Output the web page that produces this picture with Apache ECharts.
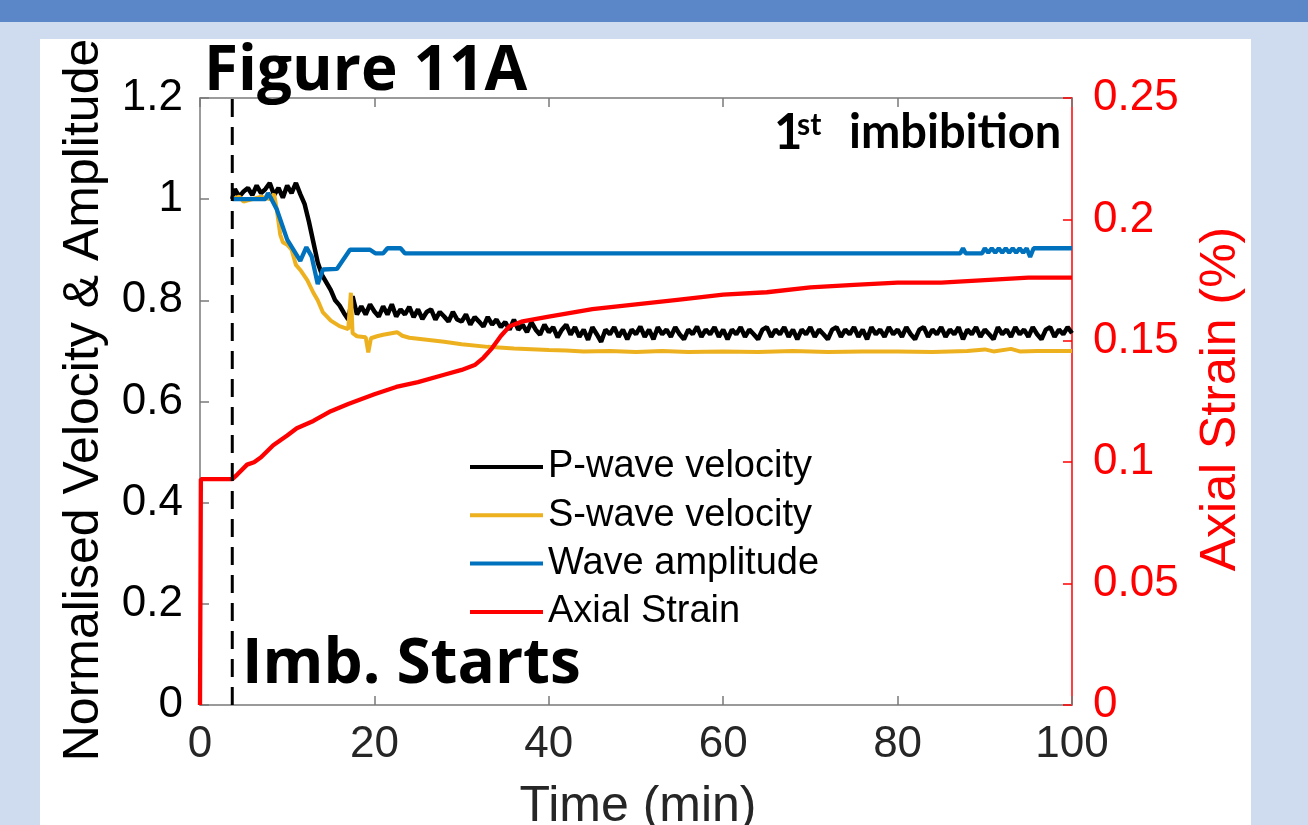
<!DOCTYPE html>
<html>
<head>
<meta charset="utf-8">
<script src="https://cdn.jsdelivr.net/npm/echarts@6/dist/echarts.min.js"></script>
<style>
html,body{margin:0;padding:0;background:#CFDBEE;}
#chart{width:1308px;height:825px;}
</style>
</head>
<body>
<div id="chart"></div>
<script>
// ---- data ----
const xTicks = [0, 20, 40, 60, 80, 100];
const leftTicks = [0, 0.2, 0.4, 0.6, 0.8, 1, 1.2];
const rightTicks = [0, 0.05, 0.1, 0.15, 0.2, 0.25];
const seriesNames = ['P-wave velocity', 'S-wave velocity', 'Wave amplitude', 'Axial Strain'];
const imbStart = 3.7; // min

// P-wave: start point then samples every 0.5 min from 4.0 to 100.0
const pStart = [3.7, 1.0];
const pFirstTime = 4.0, pStep = 0.5;
const pValues = [
  1.02, 1.005, 1.015, 1.022, 1.008, 1.027, 1.012, 1.02, 1.032, 1.008,
  1.022, 1.003, 1.027, 1.012, 1.032, 1.01, 0.99, 0.955, 0.915, 0.875,
  0.85, 0.835, 0.82, 0.80, 0.79, 0.775, 0.762, 0.808, 0.772, 0.788,
  0.772, 0.792, 0.778, 0.768, 0.788, 0.772, 0.792, 0.768, 0.782, 0.772,
  0.787, 0.767, 0.782, 0.763, 0.777, 0.782, 0.762, 0.777, 0.768, 0.758,
  0.777, 0.762, 0.758, 0.772, 0.752, 0.767, 0.758, 0.748, 0.767, 0.752,
  0.762, 0.747, 0.757, 0.742, 0.762, 0.742, 0.752, 0.737, 0.757, 0.742,
  0.732, 0.752, 0.737, 0.747, 0.727, 0.742, 0.752, 0.732, 0.747, 0.728,
  0.742, 0.722, 0.747, 0.733, 0.718, 0.742, 0.733, 0.747, 0.728, 0.742,
  0.723, 0.742, 0.733, 0.748, 0.728, 0.742, 0.723, 0.747, 0.733, 0.742,
  0.728, 0.747, 0.733, 0.723, 0.742, 0.733, 0.748, 0.728, 0.742, 0.733,
  0.747, 0.728, 0.742, 0.723, 0.742, 0.733, 0.747, 0.728, 0.742, 0.733,
  0.723, 0.742, 0.747, 0.728, 0.742, 0.733, 0.747, 0.728, 0.742, 0.723,
  0.742, 0.733, 0.747, 0.728, 0.742, 0.733, 0.723, 0.742, 0.747, 0.728,
  0.742, 0.733, 0.747, 0.728, 0.742, 0.723, 0.747, 0.733, 0.742, 0.728,
  0.747, 0.733, 0.742, 0.728, 0.747, 0.733, 0.723, 0.742, 0.747, 0.728,
  0.742, 0.733, 0.747, 0.728, 0.742, 0.733, 0.747, 0.723, 0.742, 0.733,
  0.747, 0.728, 0.742, 0.733, 0.723, 0.747, 0.733, 0.742, 0.728, 0.747,
  0.733, 0.742, 0.728, 0.747, 0.733, 0.723, 0.742, 0.747, 0.728, 0.742,
  0.733, 0.747, 0.735
];

const sTime = [3.7, 4.5, 5, 6, 7, 8, 8.5, 8.8, 9.2, 9.5, 10, 10.5, 11, 11.5, 12.3, 13, 13.5, 14.1, 15, 16, 17, 17.2, 17.3, 17.5, 18, 19, 19.3, 19.6, 20.3, 21, 22.6, 23.2, 24, 26, 28, 30, 33, 36, 40, 42, 44, 47, 50, 53, 56, 60, 64, 68, 72, 76, 80, 84, 88, 90, 91, 93, 94, 96, 100];
const sVel  = [1.0, 1.005, 0.995, 1.0, 1.005, 1.0, 1.01, 0.98, 0.93, 0.915, 0.91, 0.9, 0.87, 0.86, 0.84, 0.815, 0.80, 0.776, 0.76, 0.749, 0.743, 0.745, 0.815, 0.735, 0.729, 0.727, 0.697, 0.725, 0.729, 0.732, 0.737, 0.73, 0.726, 0.722, 0.718, 0.713, 0.708, 0.705, 0.702, 0.701, 0.699, 0.700, 0.698, 0.700, 0.698, 0.699, 0.698, 0.700, 0.698, 0.699, 0.699, 0.698, 0.700, 0.703, 0.699, 0.704, 0.699, 0.700, 0.700];

const aTime = [3.7, 7.5, 7.8, 8.2, 8.8, 10, 11.5, 12.2, 12.8, 13.5, 14.1, 15.7, 17.2, 19.5, 20.1, 21, 21.5, 23, 23.5, 87.2, 87.5, 87.8, 89.7, 90.0, 90.4, 90.8, 91.2, 91.6, 92.0, 92.4, 92.8, 93.2, 93.6, 94.0, 94.4, 94.8, 95.2, 95.6, 100];
const amp   = [1.0, 1.0, 1.012, 1.0, 0.98, 0.92, 0.878, 0.905, 0.887, 0.832, 0.861, 0.862, 0.9, 0.9, 0.893, 0.893, 0.903, 0.903, 0.893, 0.893, 0.903, 0.893, 0.893, 0.903, 0.894, 0.903, 0.894, 0.903, 0.894, 0.903, 0.894, 0.903, 0.894, 0.903, 0.894, 0.903, 0.886, 0.903, 0.903];

const strainTime = [0, 0.1, 3.7, 4.3, 5.4, 6.2, 7, 8.4, 10, 11.1, 13, 15, 17, 20, 22.5, 25, 28, 30, 31.5, 32.5, 33.5, 34.5, 35.5, 37, 40, 45, 50, 55, 60, 65, 70, 75, 80, 85, 90, 95, 100];
const strain     = [0, 0.093, 0.093, 0.095, 0.099, 0.100, 0.102, 0.107, 0.111, 0.114, 0.117, 0.121, 0.124, 0.128, 0.131, 0.133, 0.136, 0.138, 0.140, 0.143, 0.147, 0.152, 0.156, 0.158, 0.160, 0.163, 0.165, 0.167, 0.169, 0.170, 0.172, 0.173, 0.174, 0.174, 0.175, 0.176, 0.176];

// ---- build series data ----
const pData = [pStart].concat(pValues.map((v, i) => [pFirstTime + i * pStep, v]));
const sData = sTime.map((t, i) => [t, sVel[i]]);
const aData = aTime.map((t, i) => [t, amp[i]]);
const eData = strainTime.map((t, i) => [t, strain[i]]);
const dashData = [[imbStart, leftTicks[0]], [imbStart, leftTicks[leftTicks.length - 1]]];

const AX = '#7a7a7a';
const FONT = 'Liberation Sans, Arial, sans-serif';
const BOLD = '"Open Sans", sans-serif';
const BOLD2 = 'Lato, sans-serif';

function axisCommon(color) {
  return {
    axisLine: {show: true, onZero: false, lineStyle: {color: color, width: 1.5}},
    axisTick: {show: true, inside: true, length: 9, lineStyle: {color: color, width: 1.5}},
    splitLine: {show: false}
  };
}

const chart = echarts.init(document.getElementById('chart'), null, {renderer: 'canvas'});
chart.setOption({
  animation: false,
  backgroundColor: 'transparent',
  grid: {left: 200, right: 236, top: 98, bottom: 120, containLabel: false},
  legend: {
    orient: 'vertical', left: 470, top: 447, padding: 0,
    itemWidth: 73, itemHeight: 4, icon: 'rect', itemGap: 8.3,
    textStyle: {fontSize: 38, lineHeight: 40, fontFamily: FONT, color: '#000'},
    data: seriesNames
  },
  xAxis: [Object.assign({
    type: 'value', min: xTicks[0], max: xTicks[xTicks.length - 1], interval: 20,
    position: 'bottom',
    axisLabel: {fontSize: 44, margin: 18, color: '#262626', fontFamily: FONT}
  }, axisCommon(AX)), Object.assign({
    type: 'value', min: xTicks[0], max: xTicks[xTicks.length - 1], interval: 20,
    position: 'top',
    axisLabel: {show: false}
  }, axisCommon(AX))],
  yAxis: [Object.assign({
    type: 'value', min: leftTicks[0], max: leftTicks[leftTicks.length - 1], interval: 0.2,
    position: 'left',
    axisLabel: {fontSize: 44, margin: 17, color: '#000', fontFamily: FONT}
  }, axisCommon(AX)), Object.assign({
    type: 'value', min: rightTicks[0], max: rightTicks[rightTicks.length - 1], interval: 0.05,
    position: 'right',
    axisLabel: {fontSize: 44, margin: 21, color: '#ff0000', fontFamily: FONT}
  }, axisCommon('#ff0000'))],
  graphic: [
    {type: 'rect', z: -10, shape: {x: 0, y: 0, width: 1308, height: 22}, style: {fill: '#5B87C9'}},
    {type: 'rect', z: -10, shape: {x: 40, y: 39, width: 1211, height: 800}, style: {fill: '#ffffff'}},
    {type: 'text', z: 100, x: 84, y: 400, rotation: Math.PI / 2,
      style: {text: 'Normalised Velocity & Amplitude', fill: '#000', font: '50px ' + FONT, textAlign: 'center', textVerticalAlign: 'middle'}},
    {type: 'text', z: 100, x: 1221, y: 399, rotation: Math.PI / 2,
      style: {text: 'Axial Strain (%)', fill: '#ff0000', font: '50px ' + FONT, textAlign: 'center', textVerticalAlign: 'middle'}},
    {type: 'text', z: 100, x: 638, y: 807,
      style: {text: 'Time (min)', fill: '#262626', font: '50px ' + FONT, textAlign: 'center', textVerticalAlign: 'middle'}},
    {type: 'text', z: 100, x: 204, y: 72,
      style: {text: 'Figure 11A', fill: '#000', font: 'bold 62px ' + BOLD, textAlign: 'left', textVerticalAlign: 'middle'}},
    {type: 'text', z: 100, x: 242, y: 665,
      style: {text: 'Imb. Starts', fill: '#000', font: 'bold 62px ' + BOLD, textAlign: 'left', textVerticalAlign: 'middle'}},
    {type: 'text', z: 100, x: 774, y: 133,
      style: {text: '1', fill: '#000', font: 'bold 49px ' + BOLD2, textAlign: 'left', textVerticalAlign: 'middle'}},
    {type: 'text', z: 100, x: 797, y: 125,
      style: {text: 'st', fill: '#000', font: 'bold 30px ' + BOLD2, textAlign: 'left', textVerticalAlign: 'middle'}},
    {type: 'text', z: 100, x: 849, y: 133,
      style: {text: 'imbibition', fill: '#000', font: 'bold 47px ' + BOLD2, textAlign: 'left', textVerticalAlign: 'middle'}}
  ],
  series: [
    {name: seriesNames[0], type: 'line', xAxisIndex: 0, yAxisIndex: 0, data: pData, showSymbol: false,
      lineStyle: {color: '#000000', width: 4.5}, itemStyle: {color: '#000000'}, z: 2},
    {name: seriesNames[1], type: 'line', xAxisIndex: 0, yAxisIndex: 0, data: sData, showSymbol: false,
      lineStyle: {color: '#EDB120', width: 4}, itemStyle: {color: '#EDB120'}, z: 3},
    {name: seriesNames[2], type: 'line', xAxisIndex: 0, yAxisIndex: 0, data: aData, showSymbol: false,
      lineStyle: {color: '#0072BD', width: 4.3}, itemStyle: {color: '#0072BD'}, z: 4},
    {name: seriesNames[3], type: 'line', xAxisIndex: 0, yAxisIndex: 1, data: eData, showSymbol: false,
      lineStyle: {color: '#ff0000', width: 4.3}, itemStyle: {color: '#ff0000'}, z: 5},
    {name: 'imbibition start', type: 'line', xAxisIndex: 0, yAxisIndex: 0, data: dashData, showSymbol: false,
      lineStyle: {color: '#000000', width: 3, type: [18, 10]}, z: 6}
  ]
});
</script>
</body>
</html>
